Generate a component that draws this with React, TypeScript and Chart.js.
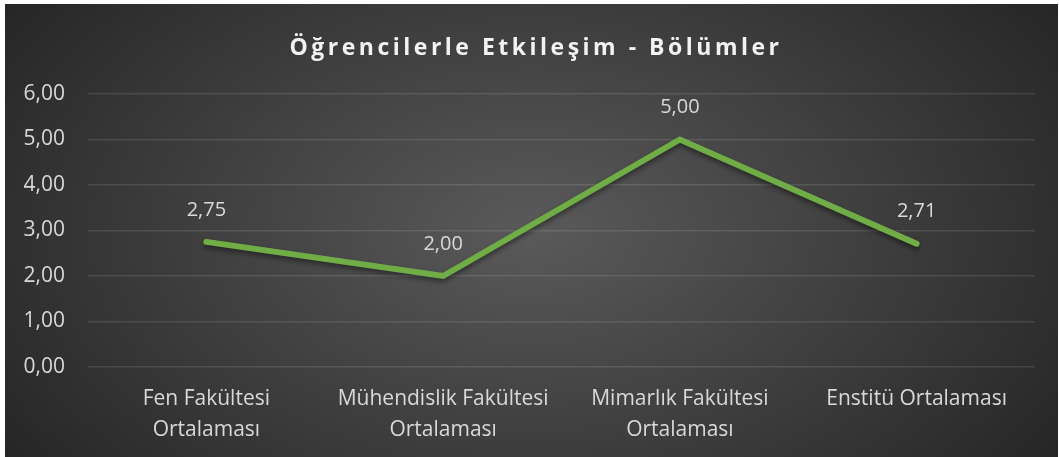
import React, { useEffect, useRef } from "react";
import { Chart, registerables } from "chart.js";

Chart.register(...registerables);

const categories: (string | string[])[] = [
  ["Fen Fakültesi", "Ortalaması"],
  ["Mühendislik Fakültesi", "Ortalaması"],
  ["Mimarlık Fakültesi", "Ortalaması"],
  "Enstitü Ortalaması",
];
const values: number[] = [2.75, 2.0, 5.0, 2.71];
const titleText = "Öğrencilerle Etkileşim - Bölümler";
const yMin = 0;
const yMax = 6;
const yStep = 1;

const FONT = "'Open Sans', 'DejaVu Sans', sans-serif";
const fmt = (v: number) => v.toFixed(2).replace(".", ",");

export default function App() {
  const ref = useRef<HTMLCanvasElement | null>(null);

  useEffect(() => {
    if (!ref.current) return;
    const bgPlugin = {
      id: "bg",
      beforeDraw(chart: any) {
        const { ctx, width, height } = chart;
        ctx.save();
        const cx = width * 0.5;
        const cy = height * 0.5;
        ctx.translate(cx, cy);
        ctx.scale(1, 0.62);
        const g = ctx.createRadialGradient(0, 0, 0, 0, 0, 640);
        g.addColorStop(0, "#5a5a5a");
        g.addColorStop(1, "#262626");
        ctx.fillStyle = g;
        ctx.fillRect(-cx, -cy / 0.62, width, height / 0.62);
        ctx.restore();
        ctx.save();
        ctx.fillStyle = "#f2f2f2";
        ctx.font = `bold 23px ${FONT}`;
        (ctx as any).letterSpacing = "3.5px";
        ctx.textAlign = "center";
        ctx.textBaseline = "middle";
        ctx.fillText(titleText, 531, 44);
        ctx.restore();
      },
    };
    const shadowPlugin = {
      id: "shadow",
      beforeDatasetsDraw(chart: any) {
        const ctx = chart.ctx;
        ctx.save();
        ctx.shadowColor = "rgba(0,0,0,0.45)";
        ctx.shadowBlur = 5;
        ctx.shadowOffsetY = 3;
      },
      afterDatasetsDraw(chart: any) {
        const ctx = chart.ctx;
        ctx.restore();
        const meta = chart.getDatasetMeta(0);
        ctx.save();
        ctx.fillStyle = "#d9d9d9";
        ctx.font = `20px ${FONT}`;
        ctx.textAlign = "center";
        ctx.textBaseline = "middle";
        meta.data.forEach((pt: any, i: number) => {
          ctx.fillText(fmt(values[i]), pt.x, pt.y - 32);
        });
        ctx.restore();
      },
    };
    const chart = new Chart(ref.current, {
      type: "line",
      data: {
        labels: categories,
        datasets: [
          {
            data: values,
            borderColor: "#70AD47",
            borderWidth: 6,
            borderCapStyle: "round",
            borderJoinStyle: "miter",
            pointRadius: 0,
            tension: 0,
            fill: false,
          },
        ],
      },
      options: {
        responsive: false,
        animation: false,
        layout: { padding: { top: 90, right: 23, left: 0, bottom: 0 } },
        plugins: {
          legend: { display: false },
          tooltip: { enabled: false },
          title: { display: false },
        },
        scales: {
          x: {
            offset: true,
            grid: { display: false, drawTicks: false },
            border: { display: false },
            ticks: {
              color: "#d9d9d9",
              font: { family: FONT, size: 21, lineHeight: 1.5 },
              padding: 16,
              maxRotation: 0,
              autoSkip: false,
            },
            afterFit(scale: any) {
              scale.height = 90;
            },
          },
          y: {
            min: yMin,
            max: yMax,
            grid: {
              color: "rgba(255,255,255,0.11)",
              lineWidth: 1.5,
              drawTicks: false,
            },
            border: { display: false },
            ticks: {
              stepSize: yStep,
              color: "#d9d9d9",
              font: { family: FONT, size: 21 },
              padding: 23,
              callback: (v: any) => fmt(Number(v)),
            },
            afterFit(scale: any) {
              scale.width = 83;
            },
          },
        },
      },
      plugins: [bgPlugin, shadowPlugin],
    });
    return () => chart.destroy();
  }, []);

  return (
    <div
      style={{
        position: "fixed",
        left: 0,
        top: 0,
        width: 1059,
        height: 457,
        background: "#ffffff",
      }}
    >
      <canvas
        ref={ref}
        width={1053}
        height={453}
        style={{ position: "absolute", left: 5, top: 4, width: 1053, height: 453 }}
      />
    </div>
  );
}
